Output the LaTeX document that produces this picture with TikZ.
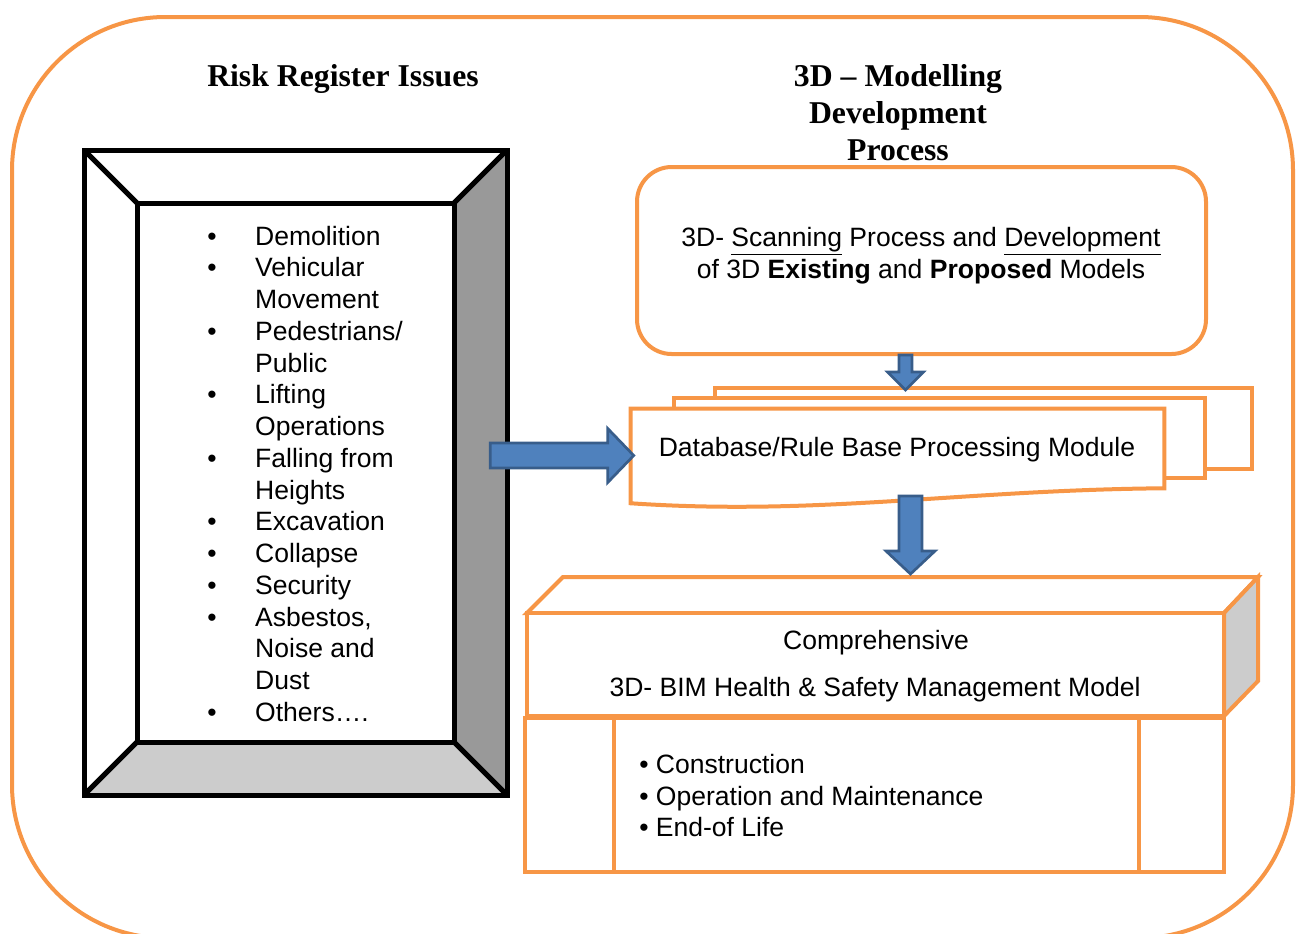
\documentclass[tikz,border=0pt]{standalone}
\usepackage{fontspec}
\setmainfont{Liberation Sans}
\newfontfamily\titlefont{Liberation Serif}
\usetikzlibrary{calc}
\definecolor{orng}{HTML}{F79646}
\definecolor{blfill}{HTML}{4F81BD}
\definecolor{blline}{HTML}{385D8A}
\definecolor{dgray}{HTML}{999999}
\definecolor{lgray}{HTML}{CCCCCC}
\begin{document}
\begin{tikzpicture}[x=0.75pt,y=-0.75pt,
  orangeline/.style={draw=orng, line width=3pt},
  bevelline/.style={draw=black, line width=3.75pt, line join=miter},
  blockarrow/.style={fill=blfill, draw=blline, line width=2pt, line join=miter},
  body/.style={font=\fontsize{19.9pt}{23.8pt}\selectfont, inner sep=0pt},
  title/.style={font=\titlefont\bfseries\fontsize{23.8pt}{27.75pt}\selectfont, inner sep=0pt, align=center}]
\useasboundingbox (0,0) rectangle (1302,933);
% outer frame
\draw[orangeline, rounded corners=115pt] (12,17) rectangle (1293,938);
% titles
\node[title] (t1) at (343,79) {Risk Register Issues};
\node[title] (t2) at (898,112.7) {3D – Modelling\\ Development\\ Process};
% bevel box
\node[minimum width=317.25pt, minimum height=483.75pt, inner sep=0pt] (risk) at (295.5,472.5) {};
\fill[white] (84,150) rectangle (507,795);
\fill[dgray] (507,150) -- (507,795) -- (454,742) -- (454,203) -- cycle;
\fill[lgray] (84,795) -- (507,795) -- (454,742) -- (137,742) -- cycle;
\draw[bevelline] (84,150) rectangle (507,795);
\draw[bevelline] (137,203) rectangle (454,742);
\draw[bevelline] (84,150) -- (137,203) (507,150) -- (454,203) (84,795) -- (137,742) (507,795) -- (454,742);
\node[body, anchor=west] (risklist) at (207,476.9) {\begin{tabular}{@{}l@{\hspace{29pt}}l@{}}
\textbullet & Demolition\\
\textbullet & Vehicular\\
 & Movement\\
\textbullet & Pedestrians/\\
 & Public\\
\textbullet & Lifting\\
 & Operations\\
\textbullet & Falling from\\
 & Heights\\
\textbullet & Excavation\\
\textbullet & Collapse\\
\textbullet & Security\\
\textbullet & Asbestos,\\
 & Noise and\\
 & Dust\\
\textbullet & Others….
\end{tabular}};
% top box
\node[orangeline, fill=white, rounded corners=26pt, minimum width=426.75pt, minimum height=140.25pt, inner sep=0pt] (topbox) at (921.5,260.5) {};
\node[body, align=center] (scantext) at (921,255.7) {3D- \underline{Scanning} Process and \underline{Development}\\ of 3D \textbf{Existing} and \textbf{Proposed} Models};
% documents
\draw[orangeline, fill=white] (715,388) rectangle (1252,469);
\draw[orangeline, fill=white] (674,398) rectangle (1205,478);
\node[minimum width=399.75pt, minimum height=59.25pt, inner sep=0pt] (doc) at (897.5,448.5) {};
\draw[orangeline, fill=white] (doc.north west) -- (doc.north east) -- (doc.south east) .. controls (960,490) and (820,516) .. ($(doc.south west)+(0,15)$) -- cycle;
\node[body] (doctext) at (897,449.6) {Database/Rule Base Processing Module};
% cube
\draw[orangeline, fill=white] (527,613) -- (563,577) -- (1258,577) -- (1224,613) -- cycle;
\draw[orangeline, fill=lgray] (1224,613) -- (1258,577) -- (1258,681) -- (1224,716) -- cycle;
\node[orangeline, fill=white, minimum width=522.75pt, minimum height=77.25pt, inner sep=0pt] (band) at (875.5,664.5) {};
\draw[orangeline] (band.south west) rectangle (1224,872);
\draw[orangeline] (614,716) -- (614,872) (1139,716) -- (1139,872);
\node[body] (comp1) at (876,642.7) {Comprehensive};
\node[body] (comp2) at (875,689.7) {3D- BIM Health \& Safety Management Model};
\node[body, align=left, anchor=west] (lifecycle) at (639,795.5) {\textbullet\ Construction\\ \textbullet\ Operation and Maintenance\\ \textbullet\ End-of Life};
% block arrows
\coordinate (a1s) at ($(topbox.south)+(-16,-1)$);
\coordinate (a1e) at (905.5,390);
\draw[blockarrow] ($(a1s)+(-6.5,0)$) -- ($(a1e)+(-6.5,-18)$) -- ($(a1e)+(-18,-18)$) -- (a1e) -- ($(a1e)+(18,-18)$) -- ($(a1e)+(6.5,-18)$) -- ($(a1s)+(6.5,0)$) -- cycle;
\coordinate (a2s) at (910.5,496);
\coordinate (a2e) at ($(band.north)+(35,-37)$);
\draw[blockarrow] ($(a2s)+(-11.5,0)$) -- ($(a2e)+(-11.5,-23)$) -- ($(a2e)+(-24.5,-23)$) -- (a2e) -- ($(a2e)+(24.5,-23)$) -- ($(a2e)+(11.5,-23)$) -- ($(a2s)+(11.5,0)$) -- cycle;
\coordinate (a3s) at ($(risk.east)+(-17,-17)$);
\coordinate (a3e) at ($(doc.west)+(3,7)$);
\draw[blockarrow] ($(a3s)+(0,-12.5)$) -- ($(a3e)+(-26,-12.5)$) -- ($(a3e)+(-26,-27)$) -- (a3e) -- ($(a3e)+(-26,27)$) -- ($(a3e)+(-26,12.5)$) -- ($(a3s)+(0,12.5)$) -- cycle;
\end{tikzpicture}
\end{document}
